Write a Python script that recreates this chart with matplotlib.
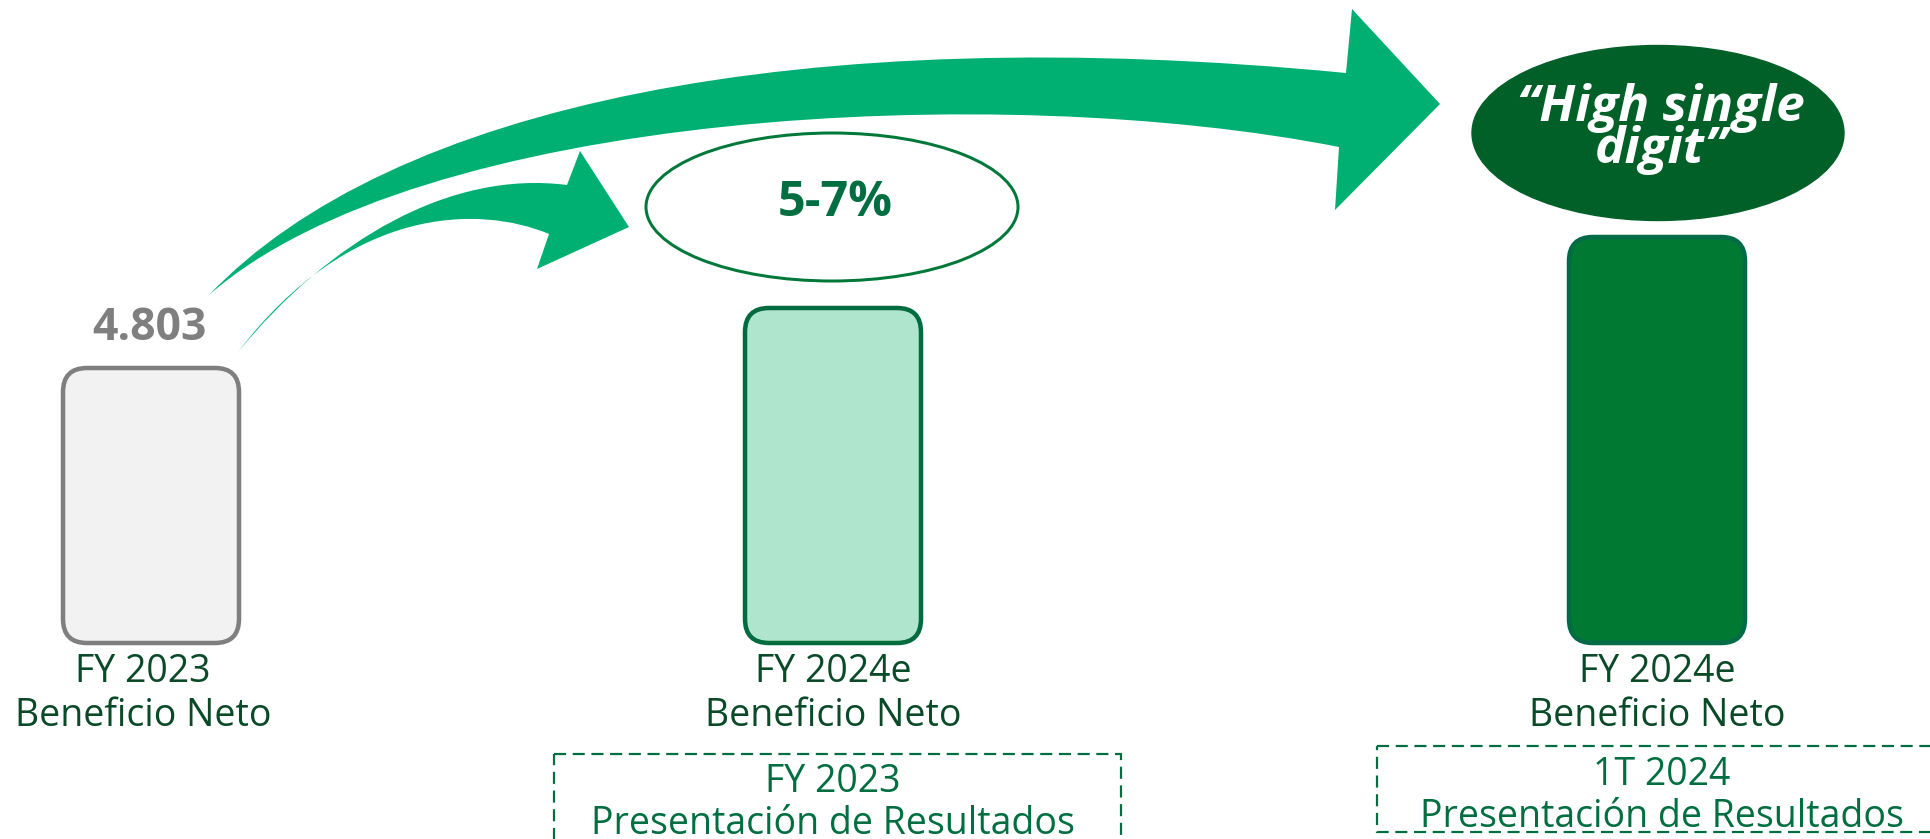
import matplotlib
matplotlib.use("Agg")
import matplotlib.pyplot as plt
from matplotlib.patches import FancyBboxPatch, Ellipse, PathPatch, Rectangle
from matplotlib.path import Path

# ---------------- data ----------------
categories = ["FY 2023\nBeneficio Neto", "FY 2024e\nBeneficio Neto", "FY 2024e\nBeneficio Neto"]
bar_heights = [275, 335, 406]          # schematic bar heights (chart units)
base_value_label = "4.803"
growth_labels = ["5-7%", "“High single\ndigit”"]
source_labels = ["FY 2023\nPresentación de Resultados", "1T 2024\nPresentación de Resultados"]

# ---------------- style ----------------
FONT = ["Open Sans", "DejaVu Sans"]
bar_fill = ["#F2F2F2", "#AEE5CC", "#007A33"]
bar_edge = ["#7F7F7F", "#006B3F", "#006B45"]
label_color = ["#0B4A28", "#0B4A28", "#0B4A28"]
arrow_color = "#00B073"
dark_green = "#006E41"

W, H = 1931, 839
fig = plt.figure(figsize=(W / 100, H / 100), dpi=100)
ax = fig.add_axes([0, 0, 1, 1])
ax.set_xlim(0, W)
ax.set_ylim(H, 0)
ax.axis("off")

px = 0.72  # points per pixel

bar_centers = [151, 833, 1657]
bar_width = 176
baseline = 643

for i, (cx, h) in enumerate(zip(bar_centers, bar_heights)):
    p = FancyBboxPatch((cx - bar_width / 2, baseline - h), bar_width, h,
                       boxstyle="round,pad=0,rounding_size=24",
                       facecolor=bar_fill[i], edgecolor=bar_edge[i], linewidth=4.5 * px, zorder=2)
    ax.add_patch(p)
    ax.text(cx - 8 if i == 0 else cx, baseline + 51, categories[i], ha="center", va="center",
            fontsize=27, color=label_color[i], family=FONT, linespacing=1.2)

# value on first bar
ax.text(bar_centers[0] - 2, baseline - bar_heights[0] - 39, base_value_label, ha="center", va="center",
        fontsize=32, fontweight="bold", color="#7F7F7F", family=FONT)

# ellipses with growth labels
e1 = Ellipse((832, 207), 372, 148, facecolor="white", edgecolor="#00783A", linewidth=3 * px, zorder=3)
ax.add_patch(e1)
ax.text(835, 203, growth_labels[0], ha="center", va="center", fontsize=35, fontweight="bold",
        color=dark_green, family=FONT, zorder=4)

e2 = Ellipse((1658, 133), 372, 175, facecolor="#006028", edgecolor="#006028", linewidth=1, zorder=3)
ax.add_patch(e2)
ax.text(1661, 129, growth_labels[1], ha="center", va="center", fontsize=37, fontweight="bold",
        fontstyle="italic", color="white", family=FONT, linespacing=0.78, zorder=4)

# source boxes (dashed)
src_boxes = [(554, 754, 567, 120), (1377, 746, 600, 86)]
src_centers = [(833, 803), (1662, 796)]
for (x0, y0, w, h), (tx, ty), lab in zip(src_boxes, src_centers, source_labels):
    r = Rectangle((x0, y0), w, h, fill=False, edgecolor=dark_green, linewidth=2.2 * px,
                  linestyle=(0, (5.5, 3)), zorder=2)
    ax.add_patch(r)
    ax.text(tx, ty, lab, ha="center", va="center", fontsize=27, color=dark_green,
            family=FONT, linespacing=1.12)

# curved arrows
def arrow_path(tail, outer_c1, outer_c2, head_top_base, head_top, tip, head_bot, inner_base, inner_c1, inner_c2):
    verts = [tail, outer_c1, outer_c2, head_top_base, head_top, tip, head_bot, inner_base,
             inner_c1, inner_c2, tail, tail]
    codes = [Path.MOVETO, Path.CURVE4, Path.CURVE4, Path.CURVE4, Path.LINETO, Path.LINETO,
             Path.LINETO, Path.LINETO, Path.CURVE4, Path.CURVE4, Path.CURVE4, Path.CLOSEPOLY]
    return Path(verts, codes)

big = arrow_path((209, 295), (390, 105), (800, 20), (1346, 73), (1352, 9), (1440, 104), (1335, 210),
                 (1339, 147), (1000, 80), (420, 110))
ax.add_patch(PathPatch(big, facecolor=arrow_color, edgecolor="none", zorder=1))

small = arrow_path((238, 352), (330, 240), (450, 170), (567, 185), (580, 151), (629, 227), (537, 269),
                   (549, 234), (480, 205), (350, 205))
ax.add_patch(PathPatch(small, facecolor=arrow_color, edgecolor="none", zorder=1))

fig.savefig("out.png", dpi=100)
